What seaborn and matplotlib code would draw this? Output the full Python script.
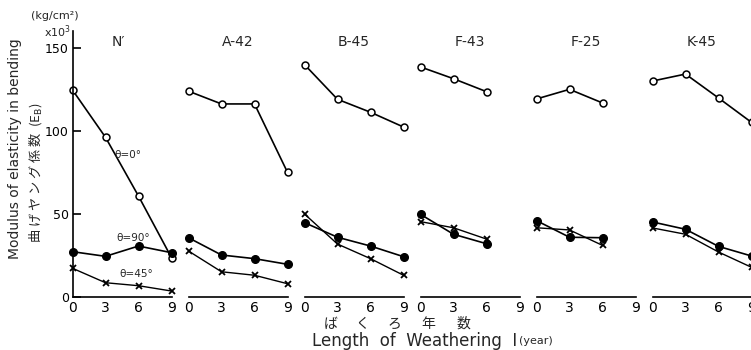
import matplotlib
matplotlib.use("Agg")
import matplotlib.pyplot as plt
import seaborn as sns

# ---------------- data ----------------
panels = ["N\u2032", "A-42", "B-45", "F-43", "F-25", "K-45"]
years = [0, 3, 6, 9]
theta0 = [
    [124.7, 96.2, 60.8, 23.7],
    [124.0, 116.3, 116.3, 75.1],
    [140.0, 119.1, 111.3, 102.4],
    [138.6, 131.5, 123.7],
    [119.3, 125.1, 116.9],
    [130.1, 134.3, 119.9, 105.2],
]
theta90 = [
    [27.3, 24.5, 30.7, 26.7],
    [35.7, 25.3, 23.1, 19.7],
    [44.8, 36.0, 30.7, 24.3],
    [49.8, 37.8, 32.1],
    [46.0, 36.0, 35.7],
    [45.2, 40.8, 30.5, 24.7],
]
theta45 = [
    [17.3, 8.6, 6.8, 3.6],
    [27.7, 15.2, 13.1, 8.0],
    [50.0, 31.9, 23.1, 13.1],
    [45.4, 41.7, 34.9],
    [41.7, 40.4, 31.1],
    [41.6, 37.8, 27.1, 17.9],
]
xticks = [0, 3, 6, 9]
yticks = [0, 50, 100, 150]
series_labels = ["\u03b8=0\u00b0", "\u03b8=90\u00b0", "\u03b8=45\u00b0"]
xlabel_jp_chars = ["ば", "く", "ろ", "年", "数"]

# ---------------- style ----------------
sns.set_style("white")
plt.rcParams["font.family"] = ["DejaVu Sans", "Noto Sans CJK JP"]
plt.rcParams["mathtext.fontset"] = "dejavusans"
JP = ["Noto Sans CJK JP", "DejaVu Sans"]

W, H = 751, 350
fig = plt.figure(figsize=(W / 100, H / 100), dpi=100)

y_zero_px = 297.0
px_per_unit = 1.66
ymax = 160
ax_h_px = ymax * px_per_unit
ax_w_px = 99.0
lefts = [72.5 + i * 116.0 for i in range(6)]

axes = []
for i, name in enumerate(panels):
    ax = fig.add_axes([lefts[i] / W, (H - y_zero_px) / H, ax_w_px / W, ax_h_px / H])
    axes.append(ax)
    sns.lineplot(x=years[: len(theta0[i])], y=theta0[i], ax=ax, color="black", linewidth=1.2,
                 marker="o", markersize=5, markerfacecolor="white",
                 markeredgecolor="black", markeredgewidth=1.1, clip_on=False)
    sns.lineplot(x=years[: len(theta90[i])], y=theta90[i], ax=ax, color="black",
                 linewidth=1.2, marker="o", markersize=5.5, markerfacecolor="black",
                 markeredgecolor="black", markeredgewidth=1.0, clip_on=False)
    sns.lineplot(x=years[: len(theta45[i])], y=theta45[i], ax=ax, color="black",
                 linewidth=1.0, marker="x", markersize=5, markeredgecolor="black",
                 markeredgewidth=1.3, clip_on=False)
    ax.set_xlim(0, 9)
    ax.set_ylim(0, ymax)
    ax.set_xlabel("")
    ax.set_ylabel("")
    ax.patch.set_alpha(0)
    for s in ["top", "right"]:
        ax.spines[s].set_visible(False)
    ax.spines["bottom"].set_bounds(0, 9)
    ax.spines["bottom"].set_linewidth(1.2)
    ax.spines["bottom"].set_color("black")
    ax.set_xticks(xticks)
    ax.set_xticklabels([str(t) for t in xticks], fontsize=10)
    ax.tick_params(axis="x", direction="in", length=5, width=1.2, pad=3, colors="black")
    if i == 0:
        ax.spines["left"].set_linewidth(1.2)
        ax.spines["left"].set_color("black")
        ax.set_yticks(yticks)
        ax.set_yticklabels([str(t) for t in yticks], fontsize=9)
        ax.tick_params(axis="y", direction="in", length=6, width=1.2, pad=2.5,
                       colors="black", left=True)
    else:
        ax.spines["left"].set_visible(False)
        ax.set_yticks([])
    tx = 4.2 if i == 0 else 4.5
    ax.text(tx, 153.5, name, ha="center", va="center", fontsize=10)

# series annotations in the first panel
a0 = axes[0]
a0.text(5.0, 85.5, series_labels[0], ha="center", va="center", fontsize=7.5)
a0.text(5.5, 35.5, series_labels[1], ha="center", va="center", fontsize=7.5)
a0.text(5.75, 14, series_labels[2], ha="center", va="center", fontsize=7.5)

# unit labels
fig.text(55 / W, 1 - 16 / H, "(kg/cm\u00b2)", ha="center", va="center", fontsize=8)
fig.text(58 / W, 1 - 32 / H, "x10$^3$", ha="center", va="center", fontsize=8)

# y labels
fig.text(15 / W, 1 - 149 / H, "Modulus of elasticity in bending", rotation=90,
         ha="center", va="center", fontsize=10)
fig.text(35 / W, 1 - 173 / H, "曲 げ ヤ ン グ 係 数  (E$_\\mathrm{B}$)", rotation=90,
         ha="center", va="center", fontsize=9.5, family=JP)

# x labels
for ch, cx in zip(xlabel_jp_chars, [331, 362, 394, 428, 463]):
    fig.text(cx / W, 1 - 324 / H, ch, ha="center", va="center", fontsize=10, family=JP)
fig.text(312 / W, 1 - 341 / H, "Length  of  Weathering  I", ha="left", va="center", fontsize=12)
fig.text(553 / W, 1 - 341 / H, "(year)", ha="right", va="center", fontsize=8)

fig.savefig("out.png", dpi=100)
